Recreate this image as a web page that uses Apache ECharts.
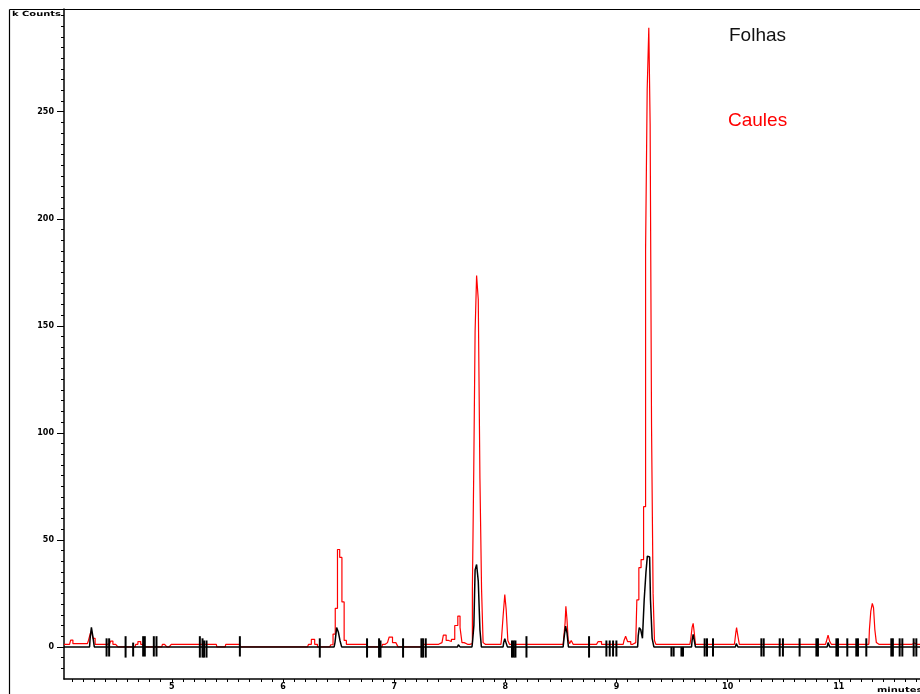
<!DOCTYPE html>
<html>
<head>
<meta charset="utf-8">
<script src="https://cdn.jsdelivr.net/npm/echarts@6/dist/echarts.min.js"></script>
<style>
html,body{margin:0;padding:0;background:#fff;}
#chart{width:920px;height:694px;}
</style>
</head>
<body>
<div id="chart"></div>
<script>
// ---- data ----
const seriesNames = ['Folhas', 'Caules'];
const xTickLabels = [5, 6, 7, 8, 9, 10, 11];
const yTickLabels = [0, 50, 100, 150, 200, 250];

// Caules (red) trace: [minutes, kCounts]
const caules = [
  [4.03,1.2],[4.08,1.2],[4.10,3.2],[4.12,1.5],[4.24,1.5],[4.26,3],[4.27,6],[4.283,7.4],[4.30,4],[4.32,1.2],
  [4.42,1.2],[4.44,1.5],[4.46,2.7],[4.48,1.2],[4.51,1.2],[4.52,0],[4.67,0],[4.68,1.2],[4.71,2.5],[4.73,1.2],[4.75,0],
  [4.91,0],[4.92,1.2],[4.95,1.2],[4.96,0],[4.99,0],[5.0,1.2],[5.40,1.2],[5.41,0],
  [5.48,0],[5.49,1.2],[5.61,1.2],[5.62,0],
  [6.22,0],[6.24,1.2],[6.27,3.5],[6.30,1.2],[6.32,0],
  [6.42,0],[6.44,1],[6.46,6],[6.48,18],[6.50,45.5],[6.52,41.8],[6.54,21],[6.56,3],[6.58,1.2],[6.75,1.2],[6.76,0],
  [6.89,0],[6.90,1.2],[6.94,2],[6.97,4.6],[7.00,2],[7.03,1.2],[7.04,0],
  [7.26,0],[7.27,1.2],[7.40,1.2],[7.43,2],[7.455,5.5],[7.48,3],[7.50,2.5],[7.53,3.5],[7.56,10],[7.585,14.4],[7.60,9],[7.62,2],[7.64,1.2],
  [7.68,1.2],[7.697,1.5],[7.71,27],[7.722,83],[7.734,147.5],[7.749,173.5],[7.764,162.3],[7.779,78.6],[7.793,27],[7.807,2],[7.82,1.2],
  [7.96,1.2],[7.97,3.5],[7.99,14.4],[8.0,24.5],[8.015,17.5],[8.03,3],[8.045,1.2],
  [8.52,1.2],[8.535,2],[8.54,11.3],[8.549,19],[8.56,12.8],[8.57,3.5],[8.585,1.5],[8.60,3],[8.62,1.2],
  [8.82,1.2],[8.85,2.5],[8.88,1.2],
  [9.06,1.2],[9.075,3],[9.089,5],[9.11,2.5],[9.146,1.2],
  [9.173,2],[9.193,22],[9.209,37],[9.233,40.8],[9.254,65.5],[9.269,185.3],[9.283,260.4],[9.298,289.2],[9.307,244],[9.323,103.5],[9.335,25],[9.348,3],[9.36,1.2],
  [9.66,1.2],[9.675,3.5],[9.685,9.1],[9.694,11],[9.705,6.6],[9.715,1.2],
  [10.06,1.2],[10.07,3],[10.076,6.6],[10.084,9],[10.10,5],[10.11,1.2],
  [10.88,1.2],[10.895,2.5],[10.911,5.5],[10.925,2.5],[10.94,1.2],
  [11.27,1.2],[11.28,8.2],[11.295,16.7],[11.307,20.3],[11.317,18.3],[11.33,8.2],[11.345,2],[11.36,1.2],
  [11.66,1.2],[11.68,1.8],[11.70,1.2],[11.73,1.2]
];

// Folhas (black) trace: [minutes, kCounts]
const folhas = [
  [4.03,0],[4.26,0],[4.27,4],[4.283,9.1],[4.295,5],[4.31,0],
  [6.46,0],[6.475,2],[6.49,9],[6.505,7],[6.52,3],[6.535,0],
  [7.57,0],[7.585,1],[7.60,0],
  [7.70,0],[7.712,3],[7.722,10],[7.734,36],[7.749,38.5],[7.764,30.7],[7.779,8],[7.79,0],
  [7.98,0],[7.99,2],[8.0,3.8],[8.012,2],[8.025,0],
  [8.52,0],[8.535,4],[8.549,9.7],[8.56,6.6],[8.575,0],
  [9.19,0],[9.20,5],[9.209,9],[9.227,8],[9.24,4],[9.258,22],[9.272,35],[9.283,42.4],[9.298,42],[9.313,22],[9.328,4],[9.344,0],
  [9.675,0],[9.685,3],[9.694,5.8],[9.705,3],[9.715,0],
  [10.07,0],[10.084,1.5],[10.10,0],
  [10.895,0],[10.911,2],[10.925,0],
  [11.73,0]
];

// Folhas baseline spikes: time, top value, bottom value
const spikeTimes = [4.413,4.436,4.584,4.652,4.742,4.757,4.838,4.862,5.252,5.276,5.29,5.312,5.612,6.331,
  6.756,6.864,6.877,7.08,7.245,7.26,7.284,8.06,8.076,8.091,8.19,8.753,8.909,8.939,8.969,8.999,
  9.494,9.514,9.584,9.598,9.793,9.814,9.868,10.303,10.324,10.468,10.497,10.647,10.798,10.812,
  10.978,10.992,11.076,11.157,11.172,11.247,11.472,11.486,11.547,11.571,11.673,11.697];
const spikeTop = [4,4,5,2,5,5,5,5,5,4,3,3,5,4,
  4,4,3,4,4,4,4,3,3,3,5,5,3,3,3,3,
  0,0,0,0,4,4,4,4,4,4,4,4,4,4,
  4,4,4,4,4,4,4,4,4,4,4,4];
const spikeBottom = [-4.5,-4.5,-5,-4.5,-4.5,-4.5,-4.5,-4.5,-5,-5,-5,-5,-4.5,-5,
  -5,-5,-5,-5,-5,-5,-5,-5,-5,-5,-5,-5,-4.5,-4.5,-4.5,-4.5,
  -4.5,-4.5,-4.5,-4.5,-4.5,-4.5,-4.5,-4.5,-4.5,-4.5,-4.5,-4.5,-4.5,-4.5,
  -4.5,-4.5,-4.5,-4.5,-4.5,-4.5,-4.5,-4.5,-4.5,-4.5,-4.5,-4.5];

// ---- chart ----
const X_MIN = 4.03, X_MAX = 11.73, Y_MIN = -15, Y_MAX = 298;
const xMinorTicks = [];
for (let k = 41; k <= 117; k++) xMinorTicks.push(k / 10);
const yMinorTicks = [];
for (let v = -10; v <= 295; v += 5) yMinorTicks.push(v);

const labelFont = {fontSize: 8, fontWeight: 'bold', fontFamily: 'DejaVu Sans', color: '#000'};

const chart = echarts.init(document.getElementById('chart'), null, {renderer: 'canvas'});
chart.setOption({
  animation: false,
  backgroundColor: '#fff',
  grid: {left: 64, top: 9, right: 0, bottom: 15, containLabel: false},
  xAxis: {
    type: 'value', min: X_MIN, max: X_MAX,
    axisLine: {onZero: false, lineStyle: {color: '#000', width: 1.5}},
    axisTick: {show: true, inside: false, length: 3, lineStyle: {color: '#000', width: 1}, customValues: xMinorTicks},
    axisLabel: Object.assign({margin: 4, customValues: xTickLabels, formatter: v => String(Math.round(v))}, labelFont),
    splitLine: {show: false}
  },
  yAxis: [
    {
      type: 'value', min: Y_MIN, max: Y_MAX, position: 'left',
      axisLine: {show: true, onZero: false, lineStyle: {color: '#000', width: 1.5}},
      axisTick: {show: true, inside: false, length: 7, lineStyle: {color: '#000', width: 1}, customValues: yTickLabels},
      axisLabel: Object.assign({margin: 10, customValues: yTickLabels}, labelFont),
      splitLine: {show: false}
    },
    {
      type: 'value', min: Y_MIN, max: Y_MAX, position: 'left', offset: 0,
      axisLine: {show: false},
      axisTick: {show: true, inside: false, length: 3, lineStyle: {color: '#000', width: 1}, customValues: yMinorTicks},
      axisLabel: {show: false},
      splitLine: {show: false}
    }
  ],
  graphic: [
    {type: 'line', shape: {x1: 9.5, y1: 9.5, x2: 920, y2: 9.5}, style: {stroke: '#000', lineWidth: 1.2}, silent: true},
    {type: 'line', shape: {x1: 9.5, y1: 9.5, x2: 9.5, y2: 694}, style: {stroke: '#000', lineWidth: 1.2}, silent: true},
    {type: 'text', x: 12, y: 11, scaleX: 1.42, style: {text: 'k Counts', font: 'bold 7px "DejaVu Sans"', fill: '#000'}},
    {type: 'text', x: 877, y: 687, scaleX: 1.42, style: {text: 'minutes', font: 'bold 7px "DejaVu Sans"', fill: '#000'}},
    {type: 'text', x: 729, y: 36, style: {text: seriesNames[0], font: '19px "Liberation Sans"', fill: '#111', verticalAlign: 'middle'}},
    {type: 'text', x: 728, y: 121, style: {text: seriesNames[1], font: '19px "Liberation Sans"', fill: '#ff0000', verticalAlign: 'middle'}}
  ],
  series: [
    {
      name: seriesNames[1], type: 'line', data: caules, step: 'middle',
      symbol: 'none', showSymbol: false, z: 2,
      lineStyle: {color: '#ff0000', width: 1.2}, itemStyle: {color: '#ff0000'}
    },
    {
      name: seriesNames[0], type: 'line', data: folhas, step: 'middle',
      symbol: 'none', showSymbol: false, z: 3,
      lineStyle: {color: '#000', width: 1.5}, itemStyle: {color: '#000'}
    },
    {
      name: 'spikes', type: 'custom', z: 4, silent: true,
      data: spikeTimes.map((t, i) => [t, spikeTop[i], spikeBottom[i]]),
      encode: {x: 0, y: [1, 2]},
      renderItem: function (params, api) {
        const t = api.value(0);
        const p1 = api.coord([t, api.value(1)]);
        const p2 = api.coord([t, api.value(2)]);
        return {type: 'line', shape: {x1: p1[0], y1: p1[1], x2: p2[0], y2: p2[1]},
                style: {stroke: '#000', lineWidth: 2}};
      }
    }
  ]
});
</script>
</body>
</html>
